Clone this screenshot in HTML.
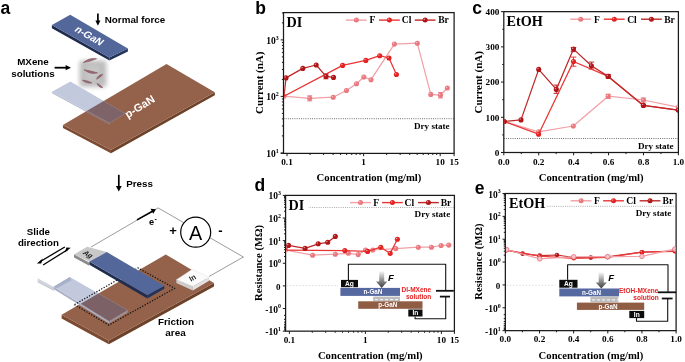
<!DOCTYPE html>
<html><head><meta charset="utf-8"><style>
html,body{margin:0;padding:0;background:#fff;}
svg{display:block;will-change:transform;filter:blur(0.3px);}
</style></head><body>
<svg width="685" height="362" viewBox="0 0 685 362">
<rect width="685" height="362" fill="#fff"/>
<text x="0.6" y="13.8" font-family='"Liberation Sans", sans-serif' font-size="17.5" font-weight="bold" text-anchor="start" fill="#000" >a</text>
<polygon points="51.9,25.0 109.3,57.4 109.4,60.6 51.9,28.2" fill="#1f2c4e" />
<polygon points="109.3,57.4 127.9,48.5 127.9,51.6 109.4,60.6" fill="#24335a" />
<polygon points="51.9,25.0 70.2,14.7 127.9,48.5 109.3,57.4" fill="#53679a" />
<text transform="translate(89.4,35.9) rotate(30) skewX(-14)" font-family='"Liberation Sans", sans-serif' font-size="10.1" font-weight="bold" fill="#fff" text-anchor="middle" dy="3.4">n-GaN</text>
<line x1="97.90" y1="13.60" x2="97.90" y2="21.50" stroke="#000" stroke-width="1.7" />
<polygon points="95.4,20.4 100.4,20.4 97.9,25.8" fill="#000" />
<text x="104.8" y="23.2" font-family='"Liberation Sans", sans-serif' font-size="9.8" font-weight="bold" text-anchor="start" fill="#000" >Normal force</text>
<text x="33" y="65.4" font-family='"Liberation Sans", sans-serif' font-size="9.8" font-weight="bold" text-anchor="middle" fill="#000" >MXene</text>
<text x="33" y="76.6" font-family='"Liberation Sans", sans-serif' font-size="9.8" font-weight="bold" text-anchor="middle" fill="#000" >solutions</text>
<line x1="54.60" y1="67.70" x2="66.50" y2="67.70" stroke="#000" stroke-width="1.8" />
<polygon points="65.6,65.1 71.0,67.7 65.6,70.3" fill="#000" />
<defs><radialGradient id="cg" cx="50%" cy="50%" r="50%"><stop offset="0" stop-color="#9a9a9a" stop-opacity="0.75"/><stop offset="0.6" stop-color="#b8b8b8" stop-opacity="0.55"/><stop offset="1" stop-color="#ffffff" stop-opacity="0"/></radialGradient><filter id="bl" x="-30%" y="-30%" width="160%" height="160%"><feGaussianBlur stdDeviation="2.2"/></filter><filter id="bl1" x="-30%" y="-30%" width="160%" height="160%"><feGaussianBlur stdDeviation="0.5"/></filter></defs>
<rect x="79.5" y="60.5" width="27" height="26.5" rx="3" fill="#b2b2b2" opacity="0.85" filter="url(#bl)"/>
<rect x="86" y="66" width="13" height="14" fill="#d0d0d0" opacity="0.5" filter="url(#bl)"/>
<g fill="#966570" stroke="#7a4a52" stroke-width="0.6" filter="url(#bl1)" opacity="0.92"><path d="M83.4,62.6 Q90.3,61.6 96.6,58.7 Q89.0,57.4 83.4,62.6 Z"/><path d="M84.0,69.7 Q90.0,74.7 97.6,72.9 Q90.9,70.8 84.0,69.7 Z"/><path d="M96.6,79.2 Q100.3,77.6 102.9,74.5 Q98.0,74.5 96.6,79.2 Z"/><path d="M82.4,80.2 Q86.4,84.0 91.8,82.9 Q87.5,80.3 82.4,80.2 Z"/><path d="M97.1,83.4 Q98.5,87.6 102.9,87.6 Q100.6,84.7 97.1,83.4 Z"/></g>
<polygon points="62.9,124.9 110.9,150.0 111.0,153.3 63.0,128.0" fill="#7b4a30" />
<polygon points="110.9,150.0 214.8,92.3 214.8,95.3 111.0,153.3" fill="#6e4129" />
<polygon points="62.9,124.9 166.5,64.1 214.8,92.3 110.9,150.0" fill="#94624a" />
<polygon points="51.9,91.7 109.9,123.0 109.9,124.6 51.9,93.3" fill="#b0b6cc" opacity="0.9"/>
<polygon points="51.9,91.7 70.4,81.5 125.1,113.6 109.9,123.0" fill="#c3c9dd" />
<clipPath id="cpP1"><polygon points="62.9,124.9 166.5,64.1 214.8,92.3 110.9,150"/></clipPath>
<g clip-path="url(#cpP1)">
<polygon points="51.9,91.7 109.9,123.0 109.9,124.8 51.9,93.5" fill="#8e7478" />
<polygon points="51.9,91.7 70.4,81.5 125.1,113.6 109.9,123.0" fill="#7e6468" />
</g>
<text transform="translate(139.6,106.4) rotate(-32)" font-family='"Liberation Sans", sans-serif' font-size="11" font-weight="bold" fill="#fff" text-anchor="middle" dy="3.9">p-GaN</text>
<line x1="118.80" y1="174.80" x2="118.80" y2="187.00" stroke="#000" stroke-width="1.7" />
<polygon points="115.9,186.0 121.7,186.0 118.8,191.5" fill="#000" />
<text x="126.2" y="186.7" font-family='"Liberation Sans", sans-serif' font-size="9.8" font-weight="bold" text-anchor="start" fill="#000" >Press</text>
<polyline points="91.0,247.0 158.1,207.9 243.4,257.0 209.0,276.5" fill="none" stroke="#9c9c9c" stroke-width="1.0" stroke-linejoin="round" />
<circle cx="195.7" cy="232.2" r="15" fill="#fff" stroke="#000" stroke-width="1.2"/>
<text x="195.6" y="239.7" font-family='"Liberation Sans", sans-serif' font-size="19.8" font-weight="normal" text-anchor="middle" fill="#000" >A</text>
<text x="173" y="235" font-family='"Liberation Sans", sans-serif' font-size="13" font-weight="bold" text-anchor="middle" fill="#000" >+</text>
<text x="220.5" y="235" font-family='"Liberation Sans", sans-serif' font-size="13" font-weight="bold" text-anchor="middle" fill="#000" >-</text>
<line x1="137.00" y1="219.90" x2="152.50" y2="211.20" stroke="#000" stroke-width="1.6" />
<polygon points="150.5,208.7 156.0,209.2 153.2,213.8" fill="#000" />
<text x="151.5" y="225.3" font-family='"Liberation Sans", sans-serif' font-size="9.2" font-weight="bold" text-anchor="middle" fill="#000" >e</text>
<text x="154.6" y="221.2" font-family='"Liberation Sans", sans-serif' font-size="7" font-weight="bold" text-anchor="start" fill="#000" >-</text>
<text x="38.4" y="234.8" font-family='"Liberation Sans", sans-serif' font-size="9.7" font-weight="bold" text-anchor="middle" fill="#000" >Slide</text>
<text x="38.4" y="246" font-family='"Liberation Sans", sans-serif' font-size="9.7" font-weight="bold" text-anchor="middle" fill="#000" >direction</text>
<line x1="64.80" y1="247.00" x2="40.00" y2="261.70" stroke="#000" stroke-width="1.3" />
<polygon points="36.8,263.6 42.8,258.6 41.2,263.6" fill="#000" />
<line x1="43.10" y1="265.00" x2="67.50" y2="249.70" stroke="#000" stroke-width="1.3" />
<polygon points="70.8,247.8 64.8,252.6 66.4,247.6" fill="#000" />
<polygon points="61.6,314.8 108.8,340.5 108.8,344.3 61.6,318.4" fill="#7b4a30" />
<polygon points="108.8,340.5 214.0,282.9 214.0,286.6 108.8,344.3" fill="#6e4129" />
<polygon points="61.6,314.8 165.8,254.4 214.0,282.9 108.8,340.5" fill="#94624a" />
<polygon points="37.7,278.3 54.0,286.9 54.0,290.8 37.7,282.3" fill="#d3d6de" />
<polygon points="37.7,281.2 54.0,289.7 54.0,290.8 37.7,282.3" fill="#c2c6d0" />
<polygon points="53.6,286.8 109.2,321.2 109.2,323.4 53.6,289.0" fill="#a9aec4" />
<polygon points="53.6,286.8 69.8,276.9 127.7,310.3 109.2,321.2" fill="#c3c9dd" />
<polygon points="53.6,286.8 69.8,276.9 71.5,280.2 56.5,288.6" fill="#a9b1c9" />
<clipPath id="cpP2"><polygon points="61.6,314.8 165.8,254.4 214,282.9 108.8,340.5"/></clipPath>
<g clip-path="url(#cpP2)">
<polygon points="53.6,286.8 69.8,276.9 127.7,310.3 109.2,321.2" fill="#7c6267" />
</g>
<polygon points="109.2,321.2 127.7,310.3 127.7,312.5 109.2,323.4" fill="#a09095" />
<polyline points="74.5,304.6 138.0,268.0 174.7,288.3 108.8,325.1 74.5,304.6" fill="none" stroke="#111" stroke-width="1.25" stroke-linejoin="round" stroke-dasharray="1.3 1.5"/>
<polygon points="74.0,254.2 89.2,262.4 89.2,265.8 74.0,257.4" fill="#8c8c8c" />
<polygon points="74.0,254.4 87.1,246.7 106.8,252.1 89.4,261.6" fill="#c8c8c8" />
<text transform="translate(88.2,254.3) rotate(32) skewX(-20)" font-family='"Liberation Sans", sans-serif' font-size="7" font-weight="bold" fill="#1a1a1a" text-anchor="middle" dy="2.4">Ag</text>
<polygon points="89.4,261.6 147.2,295.1 147.4,298.4 89.4,264.8" fill="#1f2c4e" />
<polygon points="147.2,295.1 164.3,285.8 164.3,288.8 147.4,298.4" fill="#24335a" />
<polygon points="89.4,261.6 106.8,252.1 164.3,285.8 147.2,295.1" fill="#53679a" />
<polygon points="176.4,279.7 192.8,286.5 192.8,290.5 176.4,282.9" fill="#cdcdcd" />
<polygon points="192.8,286.5 209.1,277.3 209.1,280.8 192.8,290.5" fill="#e2e2e2" />
<polygon points="176.4,279.7 192.3,269.3 209.1,277.3 192.8,286.5" fill="#fbfbfb" stroke="#d8d8d8" stroke-width="0.4"/>
<text transform="translate(192.6,278) rotate(-31)" font-family='"Liberation Sans", sans-serif' font-size="7.5" font-weight="bold" fill="#222" text-anchor="middle" dy="2.5">In</text>
<text x="176" y="325.1" font-family='"Liberation Sans", sans-serif' font-size="9.9" font-weight="bold" text-anchor="middle" fill="#000" >Friction</text>
<text x="175.5" y="335.5" font-family='"Liberation Sans", sans-serif' font-size="9.9" font-weight="bold" text-anchor="middle" fill="#000" >area</text>
<text x="255.3" y="14.2" font-family='"Liberation Sans", sans-serif' font-size="17.5" font-weight="bold" text-anchor="start" fill="#000" >b</text>
<line x1="283.50" y1="118.70" x2="454.10" y2="118.70" stroke="#505050" stroke-width="0.9" stroke-dasharray="0.9 1.3"/>
<text x="449.6" y="129" font-family='"Liberation Serif", serif' font-size="9.1" font-weight="bold" text-anchor="end" fill="#000" >Dry state</text>
<line x1="287.00" y1="153.40" x2="287.00" y2="156.20" stroke="#1a1a1a" stroke-width="1" />
<line x1="310.06" y1="153.40" x2="310.06" y2="155.00" stroke="#1a1a1a" stroke-width="1" />
<line x1="323.55" y1="153.40" x2="323.55" y2="155.00" stroke="#1a1a1a" stroke-width="1" />
<line x1="333.12" y1="153.40" x2="333.12" y2="155.00" stroke="#1a1a1a" stroke-width="1" />
<line x1="340.54" y1="153.40" x2="340.54" y2="155.00" stroke="#1a1a1a" stroke-width="1" />
<line x1="346.61" y1="153.40" x2="346.61" y2="155.00" stroke="#1a1a1a" stroke-width="1" />
<line x1="351.73" y1="153.40" x2="351.73" y2="155.00" stroke="#1a1a1a" stroke-width="1" />
<line x1="356.18" y1="153.40" x2="356.18" y2="155.00" stroke="#1a1a1a" stroke-width="1" />
<line x1="360.09" y1="153.40" x2="360.09" y2="155.00" stroke="#1a1a1a" stroke-width="1" />
<line x1="363.60" y1="153.40" x2="363.60" y2="156.20" stroke="#1a1a1a" stroke-width="1" />
<line x1="386.66" y1="153.40" x2="386.66" y2="155.00" stroke="#1a1a1a" stroke-width="1" />
<line x1="400.15" y1="153.40" x2="400.15" y2="155.00" stroke="#1a1a1a" stroke-width="1" />
<line x1="409.72" y1="153.40" x2="409.72" y2="155.00" stroke="#1a1a1a" stroke-width="1" />
<line x1="417.14" y1="153.40" x2="417.14" y2="155.00" stroke="#1a1a1a" stroke-width="1" />
<line x1="423.21" y1="153.40" x2="423.21" y2="155.00" stroke="#1a1a1a" stroke-width="1" />
<line x1="428.33" y1="153.40" x2="428.33" y2="155.00" stroke="#1a1a1a" stroke-width="1" />
<line x1="432.78" y1="153.40" x2="432.78" y2="155.00" stroke="#1a1a1a" stroke-width="1" />
<line x1="436.69" y1="153.40" x2="436.69" y2="155.00" stroke="#1a1a1a" stroke-width="1" />
<line x1="440.20" y1="153.40" x2="440.20" y2="156.20" stroke="#1a1a1a" stroke-width="1" />
<line x1="454.10" y1="153.40" x2="454.10" y2="156.20" stroke="#1a1a1a" stroke-width="1" />
<line x1="283.50" y1="153.40" x2="280.70" y2="153.40" stroke="#1a1a1a" stroke-width="1" />
<line x1="283.50" y1="152.90" x2="280.70" y2="152.90" stroke="#1a1a1a" stroke-width="1" />
<line x1="283.50" y1="135.89" x2="281.90" y2="135.89" stroke="#1a1a1a" stroke-width="1" />
<line x1="283.50" y1="125.94" x2="281.90" y2="125.94" stroke="#1a1a1a" stroke-width="1" />
<line x1="283.50" y1="118.88" x2="281.90" y2="118.88" stroke="#1a1a1a" stroke-width="1" />
<line x1="283.50" y1="113.41" x2="281.90" y2="113.41" stroke="#1a1a1a" stroke-width="1" />
<line x1="283.50" y1="108.93" x2="281.90" y2="108.93" stroke="#1a1a1a" stroke-width="1" />
<line x1="283.50" y1="105.15" x2="281.90" y2="105.15" stroke="#1a1a1a" stroke-width="1" />
<line x1="283.50" y1="101.88" x2="281.90" y2="101.88" stroke="#1a1a1a" stroke-width="1" />
<line x1="283.50" y1="98.99" x2="281.90" y2="98.99" stroke="#1a1a1a" stroke-width="1" />
<line x1="283.50" y1="96.40" x2="280.70" y2="96.40" stroke="#1a1a1a" stroke-width="1" />
<line x1="283.50" y1="79.39" x2="281.90" y2="79.39" stroke="#1a1a1a" stroke-width="1" />
<line x1="283.50" y1="69.44" x2="281.90" y2="69.44" stroke="#1a1a1a" stroke-width="1" />
<line x1="283.50" y1="62.38" x2="281.90" y2="62.38" stroke="#1a1a1a" stroke-width="1" />
<line x1="283.50" y1="56.91" x2="281.90" y2="56.91" stroke="#1a1a1a" stroke-width="1" />
<line x1="283.50" y1="52.43" x2="281.90" y2="52.43" stroke="#1a1a1a" stroke-width="1" />
<line x1="283.50" y1="48.65" x2="281.90" y2="48.65" stroke="#1a1a1a" stroke-width="1" />
<line x1="283.50" y1="45.38" x2="281.90" y2="45.38" stroke="#1a1a1a" stroke-width="1" />
<line x1="283.50" y1="42.49" x2="281.90" y2="42.49" stroke="#1a1a1a" stroke-width="1" />
<line x1="283.50" y1="39.90" x2="280.70" y2="39.90" stroke="#1a1a1a" stroke-width="1" />
<line x1="283.50" y1="22.89" x2="281.90" y2="22.89" stroke="#1a1a1a" stroke-width="1" />
<line x1="283.50" y1="12.94" x2="281.90" y2="12.94" stroke="#1a1a1a" stroke-width="1" />
<rect x="283.5" y="12.6" width="170.60" height="140.80" fill="none" stroke="#1a1a1a" stroke-width="1.25"/>
<text x="287.0" y="165" font-family='"Liberation Serif", serif' font-size="9.2" font-weight="bold" text-anchor="middle" fill="#000" >0.1</text>
<text x="363.6" y="165" font-family='"Liberation Serif", serif' font-size="9.2" font-weight="bold" text-anchor="middle" fill="#000" >1</text>
<text x="440.20000000000005" y="165" font-family='"Liberation Serif", serif' font-size="9.2" font-weight="bold" text-anchor="middle" fill="#000" >10</text>
<text x="454.2" y="165" font-family='"Liberation Serif", serif' font-size="9.2" font-weight="bold" text-anchor="middle" fill="#000" >15</text>
<text x="278.6" y="43.9" font-family='"Liberation Serif", serif' font-size="9.5" font-weight="bold" text-anchor="end">10<tspan font-size="5.9" dy="-4.1">3</tspan></text>
<text x="278.6" y="100.4" font-family='"Liberation Serif", serif' font-size="9.5" font-weight="bold" text-anchor="end">10<tspan font-size="5.9" dy="-4.1">2</tspan></text>
<text x="278.6" y="156.9" font-family='"Liberation Serif", serif' font-size="9.5" font-weight="bold" text-anchor="end">10<tspan font-size="5.9" dy="-4.1">1</tspan></text>
<text x="369" y="181.2" font-family='"Liberation Serif", serif' font-size="10.7" font-weight="bold" text-anchor="middle" fill="#000" >Concentration (mg/ml)</text>
<text transform="translate(263.1,82.75) rotate(-90)" font-family='"Liberation Serif", serif' font-size="11.0" font-weight="bold" text-anchor="middle">Current (nA)</text>
<text x="286.4" y="27.2" font-family='"Liberation Serif", serif' font-size="14.2" font-weight="bold" text-anchor="start" fill="#000" >DI</text>
<line x1="345.90" y1="20.10" x2="366.70" y2="20.10" stroke="#f0a0a6" stroke-width="1.4" />
<circle cx="356.3" cy="20.1" r="2.5" fill="#e9787f"/>
<circle cx="355.5" cy="19.3" r="0.75" fill="#fff" opacity="0.55"/>
<text x="369.4" y="23.4" font-family='"Liberation Serif", serif' font-size="9.6" font-weight="bold">F</text>
<line x1="379.00" y1="20.10" x2="399.80" y2="20.10" stroke="#ea3434" stroke-width="1.4" />
<circle cx="389.4" cy="20.1" r="2.5" fill="#e42222"/>
<circle cx="388.6" cy="19.3" r="0.75" fill="#fff" opacity="0.55"/>
<text x="401.8" y="23.4" font-family='"Liberation Serif", serif' font-size="9.6" font-weight="bold">Cl</text>
<line x1="414.70" y1="20.10" x2="435.50" y2="20.10" stroke="#c02626" stroke-width="1.4" />
<circle cx="425.1" cy="20.1" r="2.5" fill="#b01518"/>
<circle cx="424.3" cy="19.3" r="0.75" fill="#fff" opacity="0.55"/>
<text x="438.2" y="23.4" font-family='"Liberation Serif", serif' font-size="9.6" font-weight="bold">Br</text>
<clipPath id="cpb"><rect x="284.1" y="13.2" width="169.40" height="139.60"/></clipPath><g clip-path="url(#cpb)">
<line x1="309.70" y1="95.80" x2="309.70" y2="100.90" stroke="#e9787f" stroke-width="0.9" />
<line x1="307.20" y1="95.80" x2="312.20" y2="95.80" stroke="#e9787f" stroke-width="0.9" />
<line x1="307.20" y1="100.90" x2="312.20" y2="100.90" stroke="#e9787f" stroke-width="0.9" />
<line x1="326.00" y1="74.00" x2="326.00" y2="78.80" stroke="#b01518" stroke-width="0.9" />
<line x1="323.50" y1="74.00" x2="328.50" y2="74.00" stroke="#b01518" stroke-width="0.9" />
<line x1="323.50" y1="78.80" x2="328.50" y2="78.80" stroke="#b01518" stroke-width="0.9" />
<line x1="440.50" y1="92.50" x2="440.50" y2="98.00" stroke="#e9787f" stroke-width="0.9" />
<line x1="438.00" y1="92.50" x2="443.00" y2="92.50" stroke="#e9787f" stroke-width="0.9" />
<line x1="438.00" y1="98.00" x2="443.00" y2="98.00" stroke="#e9787f" stroke-width="0.9" />
<polyline points="284.0,96.2 309.7,98.3 333.2,97.2 346.4,90.5 356.5,83.8 363.8,77.0 371.0,79.7 394.4,44.1 417.3,43.2 430.8,94.4 440.5,95.2 447.3,88.0" fill="none" stroke="#f0a0a6" stroke-width="1.25" stroke-linejoin="round" />
<circle cx="284.0" cy="96.2" r="2.55" fill="#e9787f"/>
<circle cx="283.2" cy="95.4" r="0.75" fill="#fff" opacity="0.55"/>
<circle cx="309.7" cy="98.3" r="2.55" fill="#e9787f"/>
<circle cx="308.9" cy="97.5" r="0.75" fill="#fff" opacity="0.55"/>
<circle cx="333.2" cy="97.2" r="2.55" fill="#e9787f"/>
<circle cx="332.4" cy="96.4" r="0.75" fill="#fff" opacity="0.55"/>
<circle cx="346.4" cy="90.5" r="2.55" fill="#e9787f"/>
<circle cx="345.6" cy="89.7" r="0.75" fill="#fff" opacity="0.55"/>
<circle cx="356.5" cy="83.8" r="2.55" fill="#e9787f"/>
<circle cx="355.7" cy="83.0" r="0.75" fill="#fff" opacity="0.55"/>
<circle cx="363.8" cy="77.0" r="2.55" fill="#e9787f"/>
<circle cx="363.0" cy="76.2" r="0.75" fill="#fff" opacity="0.55"/>
<circle cx="371.0" cy="79.7" r="2.55" fill="#e9787f"/>
<circle cx="370.2" cy="78.9" r="0.75" fill="#fff" opacity="0.55"/>
<circle cx="394.4" cy="44.1" r="2.55" fill="#e9787f"/>
<circle cx="393.6" cy="43.3" r="0.75" fill="#fff" opacity="0.55"/>
<circle cx="417.3" cy="43.2" r="2.55" fill="#e9787f"/>
<circle cx="416.5" cy="42.4" r="0.75" fill="#fff" opacity="0.55"/>
<circle cx="430.8" cy="94.4" r="2.55" fill="#e9787f"/>
<circle cx="430.0" cy="93.6" r="0.75" fill="#fff" opacity="0.55"/>
<circle cx="440.5" cy="95.2" r="2.55" fill="#e9787f"/>
<circle cx="439.7" cy="94.4" r="0.75" fill="#fff" opacity="0.55"/>
<circle cx="447.3" cy="88.0" r="2.55" fill="#e9787f"/>
<circle cx="446.5" cy="87.2" r="0.75" fill="#fff" opacity="0.55"/>
<polyline points="284.0,96.2 342.6,65.4 365.8,60.4 379.7,55.7 389.0,58.0 396.4,74.5" fill="none" stroke="#ea3434" stroke-width="1.25" stroke-linejoin="round" />
<circle cx="342.6" cy="65.4" r="2.55" fill="#e42222"/>
<circle cx="341.8" cy="64.6" r="0.75" fill="#fff" opacity="0.55"/>
<circle cx="365.8" cy="60.4" r="2.55" fill="#e42222"/>
<circle cx="365.0" cy="59.6" r="0.75" fill="#fff" opacity="0.55"/>
<circle cx="379.7" cy="55.7" r="2.55" fill="#e42222"/>
<circle cx="378.9" cy="54.9" r="0.75" fill="#fff" opacity="0.55"/>
<circle cx="389.0" cy="58.0" r="2.55" fill="#e42222"/>
<circle cx="388.2" cy="57.2" r="0.75" fill="#fff" opacity="0.55"/>
<circle cx="396.4" cy="74.5" r="2.55" fill="#e42222"/>
<circle cx="395.6" cy="73.7" r="0.75" fill="#fff" opacity="0.55"/>
<polyline points="284.0,96.2 286.0,77.9 302.8,68.4 316.2,65.0 326.0,76.4 333.5,77.4" fill="none" stroke="#c02626" stroke-width="1.25" stroke-linejoin="round" />
<circle cx="286.0" cy="77.9" r="2.55" fill="#b01518"/>
<circle cx="285.2" cy="77.1" r="0.75" fill="#fff" opacity="0.55"/>
<circle cx="302.8" cy="68.4" r="2.55" fill="#b01518"/>
<circle cx="302.0" cy="67.6" r="0.75" fill="#fff" opacity="0.55"/>
<circle cx="316.2" cy="65.0" r="2.55" fill="#b01518"/>
<circle cx="315.4" cy="64.2" r="0.75" fill="#fff" opacity="0.55"/>
<circle cx="326.0" cy="76.4" r="2.55" fill="#b01518"/>
<circle cx="325.2" cy="75.6" r="0.75" fill="#fff" opacity="0.55"/>
<circle cx="333.5" cy="77.4" r="2.55" fill="#b01518"/>
<circle cx="332.7" cy="76.6" r="0.75" fill="#fff" opacity="0.55"/>
</g>
<text x="472.2" y="14.2" font-family='"Liberation Sans", sans-serif' font-size="17.5" font-weight="bold" text-anchor="start" fill="#000" >c</text>
<line x1="503.80" y1="138.50" x2="678.40" y2="138.50" stroke="#505050" stroke-width="0.9" stroke-dasharray="0.9 1.3"/>
<text x="673.6" y="149.2" font-family='"Liberation Serif", serif' font-size="9.1" font-weight="bold" text-anchor="end" fill="#000" >Dry state</text>
<line x1="503.80" y1="152.50" x2="503.80" y2="155.30" stroke="#1a1a1a" stroke-width="1" />
<line x1="521.26" y1="152.50" x2="521.26" y2="154.10" stroke="#1a1a1a" stroke-width="1" />
<line x1="538.72" y1="152.50" x2="538.72" y2="155.30" stroke="#1a1a1a" stroke-width="1" />
<line x1="556.18" y1="152.50" x2="556.18" y2="154.10" stroke="#1a1a1a" stroke-width="1" />
<line x1="573.64" y1="152.50" x2="573.64" y2="155.30" stroke="#1a1a1a" stroke-width="1" />
<line x1="591.10" y1="152.50" x2="591.10" y2="154.10" stroke="#1a1a1a" stroke-width="1" />
<line x1="608.56" y1="152.50" x2="608.56" y2="155.30" stroke="#1a1a1a" stroke-width="1" />
<line x1="626.02" y1="152.50" x2="626.02" y2="154.10" stroke="#1a1a1a" stroke-width="1" />
<line x1="643.48" y1="152.50" x2="643.48" y2="155.30" stroke="#1a1a1a" stroke-width="1" />
<line x1="660.94" y1="152.50" x2="660.94" y2="154.10" stroke="#1a1a1a" stroke-width="1" />
<line x1="678.40" y1="152.50" x2="678.40" y2="155.30" stroke="#1a1a1a" stroke-width="1" />
<line x1="503.80" y1="152.50" x2="501.00" y2="152.50" stroke="#1a1a1a" stroke-width="1" />
<line x1="503.80" y1="134.90" x2="502.20" y2="134.90" stroke="#1a1a1a" stroke-width="1" />
<line x1="503.80" y1="117.29" x2="501.00" y2="117.29" stroke="#1a1a1a" stroke-width="1" />
<line x1="503.80" y1="99.69" x2="502.20" y2="99.69" stroke="#1a1a1a" stroke-width="1" />
<line x1="503.80" y1="82.08" x2="501.00" y2="82.08" stroke="#1a1a1a" stroke-width="1" />
<line x1="503.80" y1="64.47" x2="502.20" y2="64.47" stroke="#1a1a1a" stroke-width="1" />
<line x1="503.80" y1="46.87" x2="501.00" y2="46.87" stroke="#1a1a1a" stroke-width="1" />
<line x1="503.80" y1="29.26" x2="502.20" y2="29.26" stroke="#1a1a1a" stroke-width="1" />
<line x1="503.80" y1="11.66" x2="501.00" y2="11.66" stroke="#1a1a1a" stroke-width="1" />
<rect x="503.8" y="11.65" width="174.60" height="140.85" fill="none" stroke="#1a1a1a" stroke-width="1.25"/>
<text x="503.8" y="165" font-family='"Liberation Serif", serif' font-size="9.2" font-weight="bold" text-anchor="middle" fill="#000" >0.0</text>
<text x="538.72" y="165" font-family='"Liberation Serif", serif' font-size="9.2" font-weight="bold" text-anchor="middle" fill="#000" >0.2</text>
<text x="573.64" y="165" font-family='"Liberation Serif", serif' font-size="9.2" font-weight="bold" text-anchor="middle" fill="#000" >0.4</text>
<text x="608.56" y="165" font-family='"Liberation Serif", serif' font-size="9.2" font-weight="bold" text-anchor="middle" fill="#000" >0.6</text>
<text x="643.48" y="165" font-family='"Liberation Serif", serif' font-size="9.2" font-weight="bold" text-anchor="middle" fill="#000" >0.8</text>
<text x="678.4" y="165" font-family='"Liberation Serif", serif' font-size="9.2" font-weight="bold" text-anchor="middle" fill="#000" >1.0</text>
<text x="499.4" y="155.8" font-family='"Liberation Serif", serif' font-size="9.2" font-weight="bold" text-anchor="end" fill="#000" >0</text>
<text x="499.4" y="120.58999999999999" font-family='"Liberation Serif", serif' font-size="9.2" font-weight="bold" text-anchor="end" fill="#000" >100</text>
<text x="499.4" y="85.38" font-family='"Liberation Serif", serif' font-size="9.2" font-weight="bold" text-anchor="end" fill="#000" >200</text>
<text x="499.4" y="50.16999999999999" font-family='"Liberation Serif", serif' font-size="9.2" font-weight="bold" text-anchor="end" fill="#000" >300</text>
<text x="499.4" y="14.959999999999997" font-family='"Liberation Serif", serif' font-size="9.2" font-weight="bold" text-anchor="end" fill="#000" >400</text>
<text x="591.2" y="181.2" font-family='"Liberation Serif", serif' font-size="10.7" font-weight="bold" text-anchor="middle" fill="#000" >Concentration (mg/ml)</text>
<text transform="translate(482.0,82.3) rotate(-90)" font-family='"Liberation Serif", serif' font-size="11.0" font-weight="bold" text-anchor="middle">Current (nA)</text>
<text x="506.6" y="26.4" font-family='"Liberation Serif", serif' font-size="14.2" font-weight="bold" text-anchor="start" fill="#000" >EtOH</text>
<line x1="570.30" y1="19.20" x2="591.10" y2="19.20" stroke="#f0a0a6" stroke-width="1.4" />
<circle cx="580.7" cy="19.2" r="2.5" fill="#e9787f"/>
<circle cx="579.9" cy="18.4" r="0.75" fill="#fff" opacity="0.55"/>
<text x="594.1" y="22.5" font-family='"Liberation Serif", serif' font-size="9.6" font-weight="bold">F</text>
<line x1="603.90" y1="19.20" x2="624.70" y2="19.20" stroke="#ea3434" stroke-width="1.4" />
<circle cx="614.3" cy="19.2" r="2.5" fill="#e42222"/>
<circle cx="613.5" cy="18.4" r="0.75" fill="#fff" opacity="0.55"/>
<text x="627.2" y="22.5" font-family='"Liberation Serif", serif' font-size="9.6" font-weight="bold">Cl</text>
<line x1="641.00" y1="19.20" x2="661.80" y2="19.20" stroke="#c02626" stroke-width="1.4" />
<circle cx="651.4" cy="19.2" r="2.5" fill="#b01518"/>
<circle cx="650.6" cy="18.4" r="0.75" fill="#fff" opacity="0.55"/>
<text x="664.2" y="22.5" font-family='"Liberation Serif", serif' font-size="9.6" font-weight="bold">Br</text>
<clipPath id="cpc"><rect x="504.40000000000003" y="12.25" width="173.40" height="139.65"/></clipPath><g clip-path="url(#cpc)">
<line x1="556.30" y1="85.10" x2="556.30" y2="93.40" stroke="#b01518" stroke-width="0.9" />
<line x1="553.55" y1="85.10" x2="559.05" y2="85.10" stroke="#b01518" stroke-width="0.9" />
<line x1="553.55" y1="93.40" x2="559.05" y2="93.40" stroke="#b01518" stroke-width="0.9" />
<line x1="573.50" y1="47.50" x2="573.50" y2="51.60" stroke="#b01518" stroke-width="0.9" />
<line x1="570.75" y1="47.50" x2="576.25" y2="47.50" stroke="#b01518" stroke-width="0.9" />
<line x1="570.75" y1="51.60" x2="576.25" y2="51.60" stroke="#b01518" stroke-width="0.9" />
<line x1="591.40" y1="62.10" x2="591.40" y2="69.00" stroke="#b01518" stroke-width="0.9" />
<line x1="588.65" y1="62.10" x2="594.15" y2="62.10" stroke="#b01518" stroke-width="0.9" />
<line x1="588.65" y1="69.00" x2="594.15" y2="69.00" stroke="#b01518" stroke-width="0.9" />
<line x1="573.50" y1="57.10" x2="573.50" y2="66.20" stroke="#e42222" stroke-width="0.9" />
<line x1="570.75" y1="57.10" x2="576.25" y2="57.10" stroke="#e42222" stroke-width="0.9" />
<line x1="570.75" y1="66.20" x2="576.25" y2="66.20" stroke="#e42222" stroke-width="0.9" />
<line x1="608.30" y1="74.50" x2="608.30" y2="78.10" stroke="#e42222" stroke-width="0.9" />
<line x1="605.55" y1="74.50" x2="611.05" y2="74.50" stroke="#e42222" stroke-width="0.9" />
<line x1="605.55" y1="78.10" x2="611.05" y2="78.10" stroke="#e42222" stroke-width="0.9" />
<line x1="608.30" y1="94.20" x2="608.30" y2="98.40" stroke="#e9787f" stroke-width="0.9" />
<line x1="605.55" y1="94.20" x2="611.05" y2="94.20" stroke="#e9787f" stroke-width="0.9" />
<line x1="605.55" y1="98.40" x2="611.05" y2="98.40" stroke="#e9787f" stroke-width="0.9" />
<line x1="643.40" y1="98.00" x2="643.40" y2="102.00" stroke="#e9787f" stroke-width="0.9" />
<line x1="640.65" y1="98.00" x2="646.15" y2="98.00" stroke="#e9787f" stroke-width="0.9" />
<line x1="640.65" y1="102.00" x2="646.15" y2="102.00" stroke="#e9787f" stroke-width="0.9" />
<polyline points="504.1,121.5 538.6,131.8 573.3,126.0 608.2,96.2 643.4,100.0 678.4,107.3" fill="none" stroke="#f0a0a6" stroke-width="1.25" stroke-linejoin="round" />
<circle cx="504.1" cy="121.5" r="2.55" fill="#e9787f"/>
<circle cx="503.3" cy="120.7" r="0.75" fill="#fff" opacity="0.55"/>
<circle cx="538.6" cy="131.8" r="2.55" fill="#e9787f"/>
<circle cx="537.8" cy="131.0" r="0.75" fill="#fff" opacity="0.55"/>
<circle cx="573.3" cy="126.0" r="2.55" fill="#e9787f"/>
<circle cx="572.5" cy="125.2" r="0.75" fill="#fff" opacity="0.55"/>
<circle cx="608.2" cy="96.2" r="2.55" fill="#e9787f"/>
<circle cx="607.4" cy="95.4" r="0.75" fill="#fff" opacity="0.55"/>
<circle cx="643.4" cy="100.0" r="2.55" fill="#e9787f"/>
<circle cx="642.6" cy="99.2" r="0.75" fill="#fff" opacity="0.55"/>
<circle cx="678.4" cy="107.3" r="2.55" fill="#e9787f"/>
<circle cx="677.6" cy="106.5" r="0.75" fill="#fff" opacity="0.55"/>
<polyline points="504.1,121.5 538.6,134.2 573.5,61.5 608.2,76.4 643.4,105.4 678.4,110.2" fill="none" stroke="#ea3434" stroke-width="1.25" stroke-linejoin="round" />
<circle cx="504.1" cy="121.5" r="2.55" fill="#e42222"/>
<circle cx="503.3" cy="120.7" r="0.75" fill="#fff" opacity="0.55"/>
<circle cx="538.6" cy="134.2" r="2.55" fill="#e42222"/>
<circle cx="537.8" cy="133.4" r="0.75" fill="#fff" opacity="0.55"/>
<circle cx="573.5" cy="61.5" r="2.55" fill="#e42222"/>
<circle cx="572.7" cy="60.7" r="0.75" fill="#fff" opacity="0.55"/>
<circle cx="608.2" cy="76.4" r="2.55" fill="#e42222"/>
<circle cx="607.4" cy="75.6" r="0.75" fill="#fff" opacity="0.55"/>
<circle cx="643.4" cy="105.4" r="2.55" fill="#e42222"/>
<circle cx="642.6" cy="104.6" r="0.75" fill="#fff" opacity="0.55"/>
<circle cx="678.4" cy="110.2" r="2.55" fill="#e42222"/>
<circle cx="677.6" cy="109.4" r="0.75" fill="#fff" opacity="0.55"/>
<polyline points="504.1,121.5 521.0,119.9 538.7,69.4 556.3,89.4 573.5,49.1 591.4,65.7 608.2,76.4 643.4,105.4 678.4,110.2" fill="none" stroke="#c02626" stroke-width="1.25" stroke-linejoin="round" />
<circle cx="504.1" cy="121.5" r="2.55" fill="#b01518"/>
<circle cx="503.3" cy="120.7" r="0.75" fill="#fff" opacity="0.55"/>
<circle cx="521.0" cy="119.9" r="2.55" fill="#b01518"/>
<circle cx="520.2" cy="119.1" r="0.75" fill="#fff" opacity="0.55"/>
<circle cx="538.7" cy="69.4" r="2.55" fill="#b01518"/>
<circle cx="537.9" cy="68.6" r="0.75" fill="#fff" opacity="0.55"/>
<circle cx="556.3" cy="89.4" r="2.55" fill="#b01518"/>
<circle cx="555.5" cy="88.6" r="0.75" fill="#fff" opacity="0.55"/>
<circle cx="573.5" cy="49.1" r="2.55" fill="#b01518"/>
<circle cx="572.7" cy="48.3" r="0.75" fill="#fff" opacity="0.55"/>
<circle cx="591.4" cy="65.7" r="2.55" fill="#b01518"/>
<circle cx="590.6" cy="64.9" r="0.75" fill="#fff" opacity="0.55"/>
<circle cx="608.2" cy="76.4" r="2.55" fill="#b01518"/>
<circle cx="607.4" cy="75.6" r="0.75" fill="#fff" opacity="0.55"/>
<circle cx="643.4" cy="105.4" r="2.55" fill="#b01518"/>
<circle cx="642.6" cy="104.6" r="0.75" fill="#fff" opacity="0.55"/>
<circle cx="678.4" cy="110.2" r="2.55" fill="#b01518"/>
<circle cx="677.6" cy="109.4" r="0.75" fill="#fff" opacity="0.55"/>
</g>
<text x="254.6" y="190.9" font-family='"Liberation Sans", sans-serif' font-size="17.5" font-weight="bold" text-anchor="start" fill="#000" >d</text>
<line x1="285.60" y1="207.50" x2="454.40" y2="207.50" stroke="#9a9a9a" stroke-width="0.9" stroke-dasharray="0.9 1.3"/>
<text x="450.2" y="216.9" font-family='"Liberation Serif", serif' font-size="9.1" font-weight="bold" text-anchor="end" fill="#000" >Dry state</text>
<line x1="289.40" y1="331.15" x2="289.40" y2="333.95" stroke="#1a1a1a" stroke-width="1" />
<line x1="312.28" y1="331.15" x2="312.28" y2="332.75" stroke="#1a1a1a" stroke-width="1" />
<line x1="325.66" y1="331.15" x2="325.66" y2="332.75" stroke="#1a1a1a" stroke-width="1" />
<line x1="335.16" y1="331.15" x2="335.16" y2="332.75" stroke="#1a1a1a" stroke-width="1" />
<line x1="342.52" y1="331.15" x2="342.52" y2="332.75" stroke="#1a1a1a" stroke-width="1" />
<line x1="348.54" y1="331.15" x2="348.54" y2="332.75" stroke="#1a1a1a" stroke-width="1" />
<line x1="353.63" y1="331.15" x2="353.63" y2="332.75" stroke="#1a1a1a" stroke-width="1" />
<line x1="358.03" y1="331.15" x2="358.03" y2="332.75" stroke="#1a1a1a" stroke-width="1" />
<line x1="361.92" y1="331.15" x2="361.92" y2="332.75" stroke="#1a1a1a" stroke-width="1" />
<line x1="365.40" y1="331.15" x2="365.40" y2="333.95" stroke="#1a1a1a" stroke-width="1" />
<line x1="388.28" y1="331.15" x2="388.28" y2="332.75" stroke="#1a1a1a" stroke-width="1" />
<line x1="401.66" y1="331.15" x2="401.66" y2="332.75" stroke="#1a1a1a" stroke-width="1" />
<line x1="411.16" y1="331.15" x2="411.16" y2="332.75" stroke="#1a1a1a" stroke-width="1" />
<line x1="418.52" y1="331.15" x2="418.52" y2="332.75" stroke="#1a1a1a" stroke-width="1" />
<line x1="424.54" y1="331.15" x2="424.54" y2="332.75" stroke="#1a1a1a" stroke-width="1" />
<line x1="429.63" y1="331.15" x2="429.63" y2="332.75" stroke="#1a1a1a" stroke-width="1" />
<line x1="434.03" y1="331.15" x2="434.03" y2="332.75" stroke="#1a1a1a" stroke-width="1" />
<line x1="437.92" y1="331.15" x2="437.92" y2="332.75" stroke="#1a1a1a" stroke-width="1" />
<line x1="441.40" y1="331.15" x2="441.40" y2="333.95" stroke="#1a1a1a" stroke-width="1" />
<line x1="454.40" y1="331.15" x2="454.40" y2="333.95" stroke="#1a1a1a" stroke-width="1" />
<line x1="285.60" y1="195.40" x2="282.80" y2="195.40" stroke="#1a1a1a" stroke-width="1" />
<line x1="285.60" y1="211.21" x2="284.00" y2="211.21" stroke="#1a1a1a" stroke-width="1" />
<line x1="285.60" y1="207.23" x2="284.00" y2="207.23" stroke="#1a1a1a" stroke-width="1" />
<line x1="285.60" y1="204.40" x2="284.00" y2="204.40" stroke="#1a1a1a" stroke-width="1" />
<line x1="285.60" y1="202.21" x2="284.00" y2="202.21" stroke="#1a1a1a" stroke-width="1" />
<line x1="285.60" y1="200.42" x2="284.00" y2="200.42" stroke="#1a1a1a" stroke-width="1" />
<line x1="285.60" y1="198.90" x2="284.00" y2="198.90" stroke="#1a1a1a" stroke-width="1" />
<line x1="285.60" y1="197.59" x2="284.00" y2="197.59" stroke="#1a1a1a" stroke-width="1" />
<line x1="285.60" y1="196.44" x2="284.00" y2="196.44" stroke="#1a1a1a" stroke-width="1" />
<line x1="285.60" y1="218.03" x2="282.80" y2="218.03" stroke="#1a1a1a" stroke-width="1" />
<line x1="285.60" y1="233.84" x2="284.00" y2="233.84" stroke="#1a1a1a" stroke-width="1" />
<line x1="285.60" y1="229.86" x2="284.00" y2="229.86" stroke="#1a1a1a" stroke-width="1" />
<line x1="285.60" y1="227.03" x2="284.00" y2="227.03" stroke="#1a1a1a" stroke-width="1" />
<line x1="285.60" y1="224.84" x2="284.00" y2="224.84" stroke="#1a1a1a" stroke-width="1" />
<line x1="285.60" y1="223.04" x2="284.00" y2="223.04" stroke="#1a1a1a" stroke-width="1" />
<line x1="285.60" y1="221.53" x2="284.00" y2="221.53" stroke="#1a1a1a" stroke-width="1" />
<line x1="285.60" y1="220.22" x2="284.00" y2="220.22" stroke="#1a1a1a" stroke-width="1" />
<line x1="285.60" y1="219.06" x2="284.00" y2="219.06" stroke="#1a1a1a" stroke-width="1" />
<line x1="285.60" y1="240.65" x2="282.80" y2="240.65" stroke="#1a1a1a" stroke-width="1" />
<line x1="285.60" y1="256.46" x2="284.00" y2="256.46" stroke="#1a1a1a" stroke-width="1" />
<line x1="285.60" y1="252.48" x2="284.00" y2="252.48" stroke="#1a1a1a" stroke-width="1" />
<line x1="285.60" y1="249.65" x2="284.00" y2="249.65" stroke="#1a1a1a" stroke-width="1" />
<line x1="285.60" y1="247.46" x2="284.00" y2="247.46" stroke="#1a1a1a" stroke-width="1" />
<line x1="285.60" y1="245.67" x2="284.00" y2="245.67" stroke="#1a1a1a" stroke-width="1" />
<line x1="285.60" y1="244.15" x2="284.00" y2="244.15" stroke="#1a1a1a" stroke-width="1" />
<line x1="285.60" y1="242.84" x2="284.00" y2="242.84" stroke="#1a1a1a" stroke-width="1" />
<line x1="285.60" y1="241.69" x2="284.00" y2="241.69" stroke="#1a1a1a" stroke-width="1" />
<line x1="285.60" y1="263.27" x2="282.80" y2="263.27" stroke="#1a1a1a" stroke-width="1" />
<line x1="285.60" y1="285.90" x2="282.80" y2="285.90" stroke="#1a1a1a" stroke-width="1" />
<line x1="285.60" y1="308.52" x2="282.80" y2="308.52" stroke="#1a1a1a" stroke-width="1" />
<line x1="285.60" y1="315.34" x2="284.00" y2="315.34" stroke="#1a1a1a" stroke-width="1" />
<line x1="285.60" y1="319.32" x2="284.00" y2="319.32" stroke="#1a1a1a" stroke-width="1" />
<line x1="285.60" y1="322.15" x2="284.00" y2="322.15" stroke="#1a1a1a" stroke-width="1" />
<line x1="285.60" y1="324.34" x2="284.00" y2="324.34" stroke="#1a1a1a" stroke-width="1" />
<line x1="285.60" y1="326.13" x2="284.00" y2="326.13" stroke="#1a1a1a" stroke-width="1" />
<line x1="285.60" y1="327.65" x2="284.00" y2="327.65" stroke="#1a1a1a" stroke-width="1" />
<line x1="285.60" y1="328.96" x2="284.00" y2="328.96" stroke="#1a1a1a" stroke-width="1" />
<line x1="285.60" y1="330.11" x2="284.00" y2="330.11" stroke="#1a1a1a" stroke-width="1" />
<line x1="285.60" y1="331.15" x2="282.80" y2="331.15" stroke="#1a1a1a" stroke-width="1" />
<text x="280.9" y="199.4" font-family='"Liberation Serif", serif' font-size="9.5" font-weight="bold" text-anchor="end">10<tspan font-size="5.9" dy="-4.1">3</tspan></text>
<text x="280.9" y="222.0" font-family='"Liberation Serif", serif' font-size="9.5" font-weight="bold" text-anchor="end">10<tspan font-size="5.9" dy="-4.1">2</tspan></text>
<text x="280.9" y="244.7" font-family='"Liberation Serif", serif' font-size="9.5" font-weight="bold" text-anchor="end">10<tspan font-size="5.9" dy="-4.1">1</tspan></text>
<text x="280.9" y="267.3" font-family='"Liberation Serif", serif' font-size="9.5" font-weight="bold" text-anchor="end">10<tspan font-size="5.9" dy="-4.1">0</tspan></text>
<text x="280.6" y="289.59999999999997" font-family='"Liberation Serif", serif' font-size="9.0" font-weight="bold" text-anchor="end" fill="#000" >0</text>
<text x="280.9" y="312.5" font-family='"Liberation Serif", serif' font-size="9.5" font-weight="bold" text-anchor="end">-10<tspan font-size="5.9" dy="-4.1">0</tspan></text>
<text x="280.9" y="335.1" font-family='"Liberation Serif", serif' font-size="9.5" font-weight="bold" text-anchor="end">-10<tspan font-size="5.9" dy="-4.1">1</tspan></text>
<rect x="285.6" y="195.4" width="168.80" height="135.75" fill="none" stroke="#1a1a1a" stroke-width="1.25"/>
<text x="289.4" y="342.6" font-family='"Liberation Serif", serif' font-size="9.2" font-weight="bold" text-anchor="middle" fill="#000" >0.1</text>
<text x="365.4" y="342.6" font-family='"Liberation Serif", serif' font-size="9.2" font-weight="bold" text-anchor="middle" fill="#000" >1</text>
<text x="441.4" y="342.6" font-family='"Liberation Serif", serif' font-size="9.2" font-weight="bold" text-anchor="middle" fill="#000" >10</text>
<text x="454.5" y="342.6" font-family='"Liberation Serif", serif' font-size="9.2" font-weight="bold" text-anchor="middle" fill="#000" >15</text>
<text x="370.3" y="359" font-family='"Liberation Serif", serif' font-size="10.7" font-weight="bold" text-anchor="middle" fill="#000" >Concentration (mg/ml)</text>
<text transform="translate(262.2,263) rotate(-90)" font-family='"Liberation Serif", serif' font-size="10.6" font-weight="bold" text-anchor="middle">Resistance (MΩ)</text>
<rect x="287" y="197" width="21.5" height="15" fill="#fff"/>
<text x="288.6" y="209.5" font-family='"Liberation Serif", serif' font-size="14.2" font-weight="bold" text-anchor="start" fill="#000" >DI</text>
<line x1="350.10" y1="202.60" x2="370.90" y2="202.60" stroke="#f0a0a6" stroke-width="1.4" />
<circle cx="360.5" cy="202.6" r="2.5" fill="#e9787f"/>
<circle cx="359.7" cy="201.8" r="0.75" fill="#fff" opacity="0.55"/>
<text x="373.2" y="205.9" font-family='"Liberation Serif", serif' font-size="9.6" font-weight="bold">F</text>
<line x1="382.00" y1="202.60" x2="402.80" y2="202.60" stroke="#ea3434" stroke-width="1.4" />
<circle cx="392.4" cy="202.6" r="2.5" fill="#e42222"/>
<circle cx="391.6" cy="201.8" r="0.75" fill="#fff" opacity="0.55"/>
<text x="404.6" y="205.9" font-family='"Liberation Serif", serif' font-size="9.6" font-weight="bold">Cl</text>
<line x1="418.00" y1="202.60" x2="438.80" y2="202.60" stroke="#c02626" stroke-width="1.4" />
<circle cx="428.4" cy="202.6" r="2.5" fill="#b01518"/>
<circle cx="427.6" cy="201.8" r="0.75" fill="#fff" opacity="0.55"/>
<text x="440.7" y="205.9" font-family='"Liberation Serif", serif' font-size="9.6" font-weight="bold">Br</text>
<clipPath id="cpd"><rect x="286.20000000000005" y="196.0" width="167.60" height="134.55"/></clipPath><g clip-path="url(#cpd)">
<polyline points="285.6,250.0 312.6,255.2 335.3,254.2 348.4,253.3 358.2,254.6 365.5,250.0 372.8,250.0 395.8,248.6 418.3,247.2 431.4,247.2 441.1,245.5 448.8,245.1" fill="none" stroke="#f0a0a6" stroke-width="1.25" stroke-linejoin="round" />
<circle cx="285.6" cy="250.0" r="2.55" fill="#e9787f"/>
<circle cx="284.8" cy="249.2" r="0.75" fill="#fff" opacity="0.55"/>
<circle cx="312.6" cy="255.2" r="2.55" fill="#e9787f"/>
<circle cx="311.8" cy="254.4" r="0.75" fill="#fff" opacity="0.55"/>
<circle cx="335.3" cy="254.2" r="2.55" fill="#e9787f"/>
<circle cx="334.5" cy="253.4" r="0.75" fill="#fff" opacity="0.55"/>
<circle cx="348.4" cy="253.3" r="2.55" fill="#e9787f"/>
<circle cx="347.6" cy="252.5" r="0.75" fill="#fff" opacity="0.55"/>
<circle cx="358.2" cy="254.6" r="2.55" fill="#e9787f"/>
<circle cx="357.4" cy="253.8" r="0.75" fill="#fff" opacity="0.55"/>
<circle cx="365.5" cy="250.0" r="2.55" fill="#e9787f"/>
<circle cx="364.7" cy="249.2" r="0.75" fill="#fff" opacity="0.55"/>
<circle cx="372.8" cy="250.0" r="2.55" fill="#e9787f"/>
<circle cx="372.0" cy="249.2" r="0.75" fill="#fff" opacity="0.55"/>
<circle cx="395.8" cy="248.6" r="2.55" fill="#e9787f"/>
<circle cx="395.0" cy="247.8" r="0.75" fill="#fff" opacity="0.55"/>
<circle cx="418.3" cy="247.2" r="2.55" fill="#e9787f"/>
<circle cx="417.5" cy="246.4" r="0.75" fill="#fff" opacity="0.55"/>
<circle cx="431.4" cy="247.2" r="2.55" fill="#e9787f"/>
<circle cx="430.6" cy="246.4" r="0.75" fill="#fff" opacity="0.55"/>
<circle cx="441.1" cy="245.5" r="2.55" fill="#e9787f"/>
<circle cx="440.3" cy="244.7" r="0.75" fill="#fff" opacity="0.55"/>
<circle cx="448.8" cy="245.1" r="2.55" fill="#e9787f"/>
<circle cx="448.0" cy="244.3" r="0.75" fill="#fff" opacity="0.55"/>
<polyline points="285.6,250.0 344.8,250.6 367.6,251.4 380.8,247.2 390.2,253.4 397.4,239.3" fill="none" stroke="#ea3434" stroke-width="1.25" stroke-linejoin="round" />
<circle cx="344.8" cy="250.6" r="2.55" fill="#e42222"/>
<circle cx="344.0" cy="249.8" r="0.75" fill="#fff" opacity="0.55"/>
<circle cx="367.6" cy="251.4" r="2.55" fill="#e42222"/>
<circle cx="366.8" cy="250.6" r="0.75" fill="#fff" opacity="0.55"/>
<circle cx="380.8" cy="247.2" r="2.55" fill="#e42222"/>
<circle cx="380.0" cy="246.4" r="0.75" fill="#fff" opacity="0.55"/>
<circle cx="390.2" cy="253.4" r="2.55" fill="#e42222"/>
<circle cx="389.4" cy="252.6" r="0.75" fill="#fff" opacity="0.55"/>
<circle cx="397.4" cy="239.3" r="2.55" fill="#e42222"/>
<circle cx="396.6" cy="238.5" r="0.75" fill="#fff" opacity="0.55"/>
<polyline points="285.6,250.0 288.5,245.4 305.1,248.4 318.2,243.8 327.7,242.3 335.3,236.4" fill="none" stroke="#c02626" stroke-width="1.25" stroke-linejoin="round" />
<circle cx="288.5" cy="245.4" r="2.55" fill="#b01518"/>
<circle cx="287.7" cy="244.6" r="0.75" fill="#fff" opacity="0.55"/>
<circle cx="305.1" cy="248.4" r="2.55" fill="#b01518"/>
<circle cx="304.3" cy="247.6" r="0.75" fill="#fff" opacity="0.55"/>
<circle cx="318.2" cy="243.8" r="2.55" fill="#b01518"/>
<circle cx="317.4" cy="243.0" r="0.75" fill="#fff" opacity="0.55"/>
<circle cx="327.7" cy="242.3" r="2.55" fill="#b01518"/>
<circle cx="326.9" cy="241.5" r="0.75" fill="#fff" opacity="0.55"/>
<circle cx="335.3" cy="236.4" r="2.55" fill="#b01518"/>
<circle cx="334.5" cy="235.6" r="0.75" fill="#fff" opacity="0.55"/>
</g>
<text x="474.7" y="194.3" font-family='"Liberation Sans", sans-serif' font-size="17.5" font-weight="bold" text-anchor="start" fill="#000" >e</text>
<line x1="547.40" y1="206.30" x2="676.10" y2="206.30" stroke="#9a9a9a" stroke-width="0.9" stroke-dasharray="0.9 1.3"/>
<text x="671.3" y="216.3" font-family='"Liberation Serif", serif' font-size="9.1" font-weight="bold" text-anchor="end" fill="#000" >Dry state</text>
<line x1="505.35" y1="330.65" x2="505.35" y2="333.45" stroke="#1a1a1a" stroke-width="1" />
<line x1="522.43" y1="330.65" x2="522.43" y2="332.25" stroke="#1a1a1a" stroke-width="1" />
<line x1="539.50" y1="330.65" x2="539.50" y2="333.45" stroke="#1a1a1a" stroke-width="1" />
<line x1="556.58" y1="330.65" x2="556.58" y2="332.25" stroke="#1a1a1a" stroke-width="1" />
<line x1="573.65" y1="330.65" x2="573.65" y2="333.45" stroke="#1a1a1a" stroke-width="1" />
<line x1="590.73" y1="330.65" x2="590.73" y2="332.25" stroke="#1a1a1a" stroke-width="1" />
<line x1="607.80" y1="330.65" x2="607.80" y2="333.45" stroke="#1a1a1a" stroke-width="1" />
<line x1="624.88" y1="330.65" x2="624.88" y2="332.25" stroke="#1a1a1a" stroke-width="1" />
<line x1="641.95" y1="330.65" x2="641.95" y2="333.45" stroke="#1a1a1a" stroke-width="1" />
<line x1="659.03" y1="330.65" x2="659.03" y2="332.25" stroke="#1a1a1a" stroke-width="1" />
<line x1="676.10" y1="330.65" x2="676.10" y2="333.45" stroke="#1a1a1a" stroke-width="1" />
<line x1="505.35" y1="193.50" x2="502.55" y2="193.50" stroke="#1a1a1a" stroke-width="1" />
<line x1="505.35" y1="209.48" x2="503.75" y2="209.48" stroke="#1a1a1a" stroke-width="1" />
<line x1="505.35" y1="205.45" x2="503.75" y2="205.45" stroke="#1a1a1a" stroke-width="1" />
<line x1="505.35" y1="202.60" x2="503.75" y2="202.60" stroke="#1a1a1a" stroke-width="1" />
<line x1="505.35" y1="200.38" x2="503.75" y2="200.38" stroke="#1a1a1a" stroke-width="1" />
<line x1="505.35" y1="198.57" x2="503.75" y2="198.57" stroke="#1a1a1a" stroke-width="1" />
<line x1="505.35" y1="197.04" x2="503.75" y2="197.04" stroke="#1a1a1a" stroke-width="1" />
<line x1="505.35" y1="195.72" x2="503.75" y2="195.72" stroke="#1a1a1a" stroke-width="1" />
<line x1="505.35" y1="194.55" x2="503.75" y2="194.55" stroke="#1a1a1a" stroke-width="1" />
<line x1="505.35" y1="216.36" x2="502.55" y2="216.36" stroke="#1a1a1a" stroke-width="1" />
<line x1="505.35" y1="232.34" x2="503.75" y2="232.34" stroke="#1a1a1a" stroke-width="1" />
<line x1="505.35" y1="228.31" x2="503.75" y2="228.31" stroke="#1a1a1a" stroke-width="1" />
<line x1="505.35" y1="225.45" x2="503.75" y2="225.45" stroke="#1a1a1a" stroke-width="1" />
<line x1="505.35" y1="223.24" x2="503.75" y2="223.24" stroke="#1a1a1a" stroke-width="1" />
<line x1="505.35" y1="221.43" x2="503.75" y2="221.43" stroke="#1a1a1a" stroke-width="1" />
<line x1="505.35" y1="219.90" x2="503.75" y2="219.90" stroke="#1a1a1a" stroke-width="1" />
<line x1="505.35" y1="218.57" x2="503.75" y2="218.57" stroke="#1a1a1a" stroke-width="1" />
<line x1="505.35" y1="217.40" x2="503.75" y2="217.40" stroke="#1a1a1a" stroke-width="1" />
<line x1="505.35" y1="239.22" x2="502.55" y2="239.22" stroke="#1a1a1a" stroke-width="1" />
<line x1="505.35" y1="255.19" x2="503.75" y2="255.19" stroke="#1a1a1a" stroke-width="1" />
<line x1="505.35" y1="251.17" x2="503.75" y2="251.17" stroke="#1a1a1a" stroke-width="1" />
<line x1="505.35" y1="248.31" x2="503.75" y2="248.31" stroke="#1a1a1a" stroke-width="1" />
<line x1="505.35" y1="246.10" x2="503.75" y2="246.10" stroke="#1a1a1a" stroke-width="1" />
<line x1="505.35" y1="244.29" x2="503.75" y2="244.29" stroke="#1a1a1a" stroke-width="1" />
<line x1="505.35" y1="242.76" x2="503.75" y2="242.76" stroke="#1a1a1a" stroke-width="1" />
<line x1="505.35" y1="241.43" x2="503.75" y2="241.43" stroke="#1a1a1a" stroke-width="1" />
<line x1="505.35" y1="240.26" x2="503.75" y2="240.26" stroke="#1a1a1a" stroke-width="1" />
<line x1="505.35" y1="262.07" x2="502.55" y2="262.07" stroke="#1a1a1a" stroke-width="1" />
<line x1="505.35" y1="284.93" x2="502.55" y2="284.93" stroke="#1a1a1a" stroke-width="1" />
<line x1="505.35" y1="307.79" x2="502.55" y2="307.79" stroke="#1a1a1a" stroke-width="1" />
<line x1="505.35" y1="314.67" x2="503.75" y2="314.67" stroke="#1a1a1a" stroke-width="1" />
<line x1="505.35" y1="318.70" x2="503.75" y2="318.70" stroke="#1a1a1a" stroke-width="1" />
<line x1="505.35" y1="321.55" x2="503.75" y2="321.55" stroke="#1a1a1a" stroke-width="1" />
<line x1="505.35" y1="323.77" x2="503.75" y2="323.77" stroke="#1a1a1a" stroke-width="1" />
<line x1="505.35" y1="325.58" x2="503.75" y2="325.58" stroke="#1a1a1a" stroke-width="1" />
<line x1="505.35" y1="327.11" x2="503.75" y2="327.11" stroke="#1a1a1a" stroke-width="1" />
<line x1="505.35" y1="328.43" x2="503.75" y2="328.43" stroke="#1a1a1a" stroke-width="1" />
<line x1="505.35" y1="329.60" x2="503.75" y2="329.60" stroke="#1a1a1a" stroke-width="1" />
<line x1="505.35" y1="330.65" x2="502.55" y2="330.65" stroke="#1a1a1a" stroke-width="1" />
<text x="500.6" y="197.5" font-family='"Liberation Serif", serif' font-size="9.5" font-weight="bold" text-anchor="end">10<tspan font-size="5.9" dy="-4.1">3</tspan></text>
<text x="500.6" y="220.4" font-family='"Liberation Serif", serif' font-size="9.5" font-weight="bold" text-anchor="end">10<tspan font-size="5.9" dy="-4.1">2</tspan></text>
<text x="500.6" y="243.2" font-family='"Liberation Serif", serif' font-size="9.5" font-weight="bold" text-anchor="end">10<tspan font-size="5.9" dy="-4.1">1</tspan></text>
<text x="500.6" y="266.1" font-family='"Liberation Serif", serif' font-size="9.5" font-weight="bold" text-anchor="end">10<tspan font-size="5.9" dy="-4.1">0</tspan></text>
<text x="500.3" y="288.6333333333333" font-family='"Liberation Serif", serif' font-size="9.0" font-weight="bold" text-anchor="end" fill="#000" >0</text>
<text x="500.6" y="311.8" font-family='"Liberation Serif", serif' font-size="9.5" font-weight="bold" text-anchor="end">-10<tspan font-size="5.9" dy="-4.1">0</tspan></text>
<text x="500.6" y="334.6" font-family='"Liberation Serif", serif' font-size="9.5" font-weight="bold" text-anchor="end">-10<tspan font-size="5.9" dy="-4.1">1</tspan></text>
<rect x="505.35" y="193.5" width="170.75" height="137.15" fill="none" stroke="#1a1a1a" stroke-width="1.25"/>
<text x="505.35" y="342.4" font-family='"Liberation Serif", serif' font-size="9.2" font-weight="bold" text-anchor="middle" fill="#000" >0.0</text>
<text x="539.5" y="342.4" font-family='"Liberation Serif", serif' font-size="9.2" font-weight="bold" text-anchor="middle" fill="#000" >0.2</text>
<text x="573.65" y="342.4" font-family='"Liberation Serif", serif' font-size="9.2" font-weight="bold" text-anchor="middle" fill="#000" >0.4</text>
<text x="607.8000000000001" y="342.4" font-family='"Liberation Serif", serif' font-size="9.2" font-weight="bold" text-anchor="middle" fill="#000" >0.6</text>
<text x="641.95" y="342.4" font-family='"Liberation Serif", serif' font-size="9.2" font-weight="bold" text-anchor="middle" fill="#000" >0.8</text>
<text x="676.1" y="342.4" font-family='"Liberation Serif", serif' font-size="9.2" font-weight="bold" text-anchor="middle" fill="#000" >1.0</text>
<text x="591" y="358.9" font-family='"Liberation Serif", serif' font-size="10.7" font-weight="bold" text-anchor="middle" fill="#000" >Concentration (mg/ml)</text>
<text transform="translate(482.4,261.6) rotate(-90)" font-family='"Liberation Serif", serif' font-size="10.65" font-weight="bold" text-anchor="middle">Resistance (MΩ)</text>
<text x="509" y="208" font-family='"Liberation Serif", serif' font-size="14.2" font-weight="bold" text-anchor="start" fill="#000" >EtOH</text>
<line x1="570.70" y1="200.80" x2="591.50" y2="200.80" stroke="#f0a0a6" stroke-width="1.4" />
<circle cx="581.1" cy="200.8" r="2.5" fill="#e9787f"/>
<circle cx="580.3" cy="200.0" r="0.75" fill="#fff" opacity="0.55"/>
<text x="594.1" y="204.1" font-family='"Liberation Serif", serif' font-size="9.6" font-weight="bold">F</text>
<line x1="603.10" y1="200.80" x2="623.90" y2="200.80" stroke="#ea3434" stroke-width="1.4" />
<circle cx="613.5" cy="200.8" r="2.5" fill="#e42222"/>
<circle cx="612.7" cy="200.0" r="0.75" fill="#fff" opacity="0.55"/>
<text x="626.3" y="204.1" font-family='"Liberation Serif", serif' font-size="9.6" font-weight="bold">Cl</text>
<line x1="639.60" y1="200.80" x2="660.40" y2="200.80" stroke="#c02626" stroke-width="1.4" />
<circle cx="650.0" cy="200.8" r="2.5" fill="#b01518"/>
<circle cx="649.2" cy="200.0" r="0.75" fill="#fff" opacity="0.55"/>
<text x="662.5" y="204.1" font-family='"Liberation Serif", serif' font-size="9.6" font-weight="bold">Br</text>
<clipPath id="cpe"><rect x="505.95000000000005" y="194.1" width="169.55" height="135.95"/></clipPath><g clip-path="url(#cpe)">
<polyline points="506.6,250.1 522.6,253.6 539.7,255.6 556.9,255.0 573.7,257.5 590.8,257.6 607.6,256.8 641.9,252.2 674.8,251.0" fill="none" stroke="#c02626" stroke-width="1.25" stroke-linejoin="round" />
<circle cx="506.6" cy="250.1" r="2.3" fill="#b01518"/>
<circle cx="505.8" cy="249.3" r="0.75" fill="#fff" opacity="0.55"/>
<circle cx="522.6" cy="253.6" r="2.3" fill="#b01518"/>
<circle cx="521.8" cy="252.8" r="0.75" fill="#fff" opacity="0.55"/>
<circle cx="539.7" cy="255.6" r="2.3" fill="#b01518"/>
<circle cx="538.9" cy="254.8" r="0.75" fill="#fff" opacity="0.55"/>
<circle cx="556.9" cy="255.0" r="2.3" fill="#b01518"/>
<circle cx="556.1" cy="254.2" r="0.75" fill="#fff" opacity="0.55"/>
<circle cx="573.7" cy="257.5" r="2.3" fill="#b01518"/>
<circle cx="572.9" cy="256.7" r="0.75" fill="#fff" opacity="0.55"/>
<circle cx="590.8" cy="257.6" r="2.3" fill="#b01518"/>
<circle cx="590.0" cy="256.8" r="0.75" fill="#fff" opacity="0.55"/>
<circle cx="607.6" cy="256.8" r="2.3" fill="#b01518"/>
<circle cx="606.8" cy="256.0" r="0.75" fill="#fff" opacity="0.55"/>
<circle cx="641.9" cy="252.2" r="2.3" fill="#b01518"/>
<circle cx="641.1" cy="251.4" r="0.75" fill="#fff" opacity="0.55"/>
<circle cx="674.8" cy="251.0" r="2.3" fill="#b01518"/>
<circle cx="674.0" cy="250.2" r="0.75" fill="#fff" opacity="0.55"/>
<polyline points="506.6,250.1 539.7,256.2 573.7,258.3 607.6,257.3 641.9,252.2 674.8,251.3" fill="none" stroke="#ee3c3c" stroke-width="1.25" stroke-linejoin="round" />
<circle cx="506.6" cy="250.1" r="2.3" fill="#e42222"/>
<circle cx="505.8" cy="249.3" r="0.75" fill="#fff" opacity="0.55"/>
<circle cx="539.7" cy="256.2" r="2.3" fill="#e42222"/>
<circle cx="538.9" cy="255.4" r="0.75" fill="#fff" opacity="0.55"/>
<circle cx="573.7" cy="258.3" r="2.3" fill="#e42222"/>
<circle cx="572.9" cy="257.5" r="0.75" fill="#fff" opacity="0.55"/>
<circle cx="607.6" cy="257.3" r="2.3" fill="#e42222"/>
<circle cx="606.8" cy="256.5" r="0.75" fill="#fff" opacity="0.55"/>
<circle cx="641.9" cy="252.2" r="2.3" fill="#e42222"/>
<circle cx="641.1" cy="251.4" r="0.75" fill="#fff" opacity="0.55"/>
<circle cx="674.8" cy="251.3" r="2.3" fill="#e42222"/>
<circle cx="674.0" cy="250.5" r="0.75" fill="#fff" opacity="0.55"/>
<polyline points="506.6,249.6 539.7,258.9 573.7,256.8 607.6,256.6 641.9,256.4 674.8,249.1" fill="none" stroke="#f0a0a6" stroke-width="1.15" stroke-linejoin="round" />
<circle cx="506.6" cy="249.6" r="2.3" fill="#f7c4c8" stroke="#e8808a" stroke-width="0.9"/>
<circle cx="539.7" cy="258.9" r="2.3" fill="#f7c4c8" stroke="#e8808a" stroke-width="0.9"/>
<circle cx="573.7" cy="256.8" r="2.3" fill="#f7c4c8" stroke="#e8808a" stroke-width="0.9"/>
<circle cx="607.6" cy="256.6" r="2.3" fill="#f7c4c8" stroke="#e8808a" stroke-width="0.9"/>
<circle cx="641.9" cy="256.4" r="2.3" fill="#f7c4c8" stroke="#e8808a" stroke-width="0.9"/>
<circle cx="674.8" cy="249.1" r="2.3" fill="#f7c4c8" stroke="#e8808a" stroke-width="0.9"/>
</g>
<line x1="286.50" y1="285.60" x2="338.00" y2="285.60" stroke="#d4d4d4" stroke-width="0.8" stroke-dasharray="1.6 1.6"/>
<polyline points="348.4,280.1 348.4,264.3 445.7,264.3 445.7,290.8" fill="none" stroke="#111" stroke-width="1.1" stroke-linejoin="round" />
<polyline points="415.1,316.5 415.1,318.8 445.7,318.8 445.7,296.6" fill="none" stroke="#111" stroke-width="1.1" stroke-linejoin="round" />
<line x1="436.00" y1="290.80" x2="453.80" y2="290.80" stroke="#111" stroke-width="1.8" />
<line x1="439.90" y1="296.60" x2="450.00" y2="296.60" stroke="#111" stroke-width="1.8" />
<rect x="341" y="279.9" width="17" height="7.3" fill="#0d0d0d"/>
<text x="349.3" y="285.6" font-family='"Liberation Sans", sans-serif' font-size="6.6" font-weight="bold" text-anchor="middle" fill="#fff" >Ag</text>
<rect x="340.4" y="287.9" width="59.6" height="8" fill="#5568a0"/>
<text x="372.9" y="294.2" font-family='"Liberation Sans", sans-serif' font-size="6.3" font-weight="bold" text-anchor="middle" fill="#fff" >n-GaN</text>
<rect x="373.2" y="296.6" width="26.8" height="4.6" fill="#bdbdbd"/>
<line x1="375.00" y1="299.60" x2="399.00" y2="299.60" stroke="#efefef" stroke-width="1.2" stroke-dasharray="3 2"/>
<rect x="358.2" y="301.3" width="64.3" height="7.5" fill="#8f5c44"/>
<text x="387.8" y="307.3" font-family='"Liberation Sans", sans-serif' font-size="6.3" font-weight="bold" text-anchor="middle" fill="#fff" >p-GaN</text>
<rect x="408.3" y="309.5" width="14.2" height="7" fill="#0d0d0d"/>
<text x="415.4" y="315.2" font-family='"Liberation Sans", sans-serif' font-size="6.6" font-weight="bold" text-anchor="middle" fill="#fff" >In</text>
<defs><linearGradient id="ag" x1="0" y1="0" x2="0" y2="1"><stop offset="0" stop-color="#f4f4f4"/><stop offset="0.55" stop-color="#8a8a8a"/><stop offset="1" stop-color="#3c3c3c"/></linearGradient></defs>
<polygon points="379.2,271.4 384.2,271.4 384.2,281.5 387.3,281.5 381.7,287.9 376.0,281.5 379.2,281.5" fill="url(#ag)" />
<text x="388" y="280.5" font-family='"Liberation Sans", sans-serif' font-size="9.5" font-weight="bold" font-style="italic">F</text>
<text x="416.3" y="292.2" font-family='"Liberation Sans", sans-serif' font-size="6.5" font-weight="bold" text-anchor="middle" fill="#e52222" >DI-MXene</text>
<text x="418.6" y="298.9" font-family='"Liberation Sans", sans-serif' font-size="6.5" font-weight="bold" text-anchor="middle" fill="#e52222" >solution</text>
<line x1="506.50" y1="285.30" x2="555.40" y2="285.30" stroke="#d4d4d4" stroke-width="0.8" stroke-dasharray="1.6 1.6"/>
<polyline points="567.6,279.8 567.6,264.7 668.0,264.7 668.0,292.3" fill="none" stroke="#111" stroke-width="1.1" stroke-linejoin="round" />
<polyline points="636.5,318.1 636.5,321.3 667.7,321.3 667.7,298.5" fill="none" stroke="#111" stroke-width="1.1" stroke-linejoin="round" />
<line x1="657.70" y1="292.30" x2="676.10" y2="292.30" stroke="#111" stroke-width="1.8" />
<line x1="661.80" y1="298.50" x2="672.60" y2="298.50" stroke="#111" stroke-width="1.8" />
<rect x="559.3" y="279.8" width="18.2" height="7.9" fill="#0d0d0d"/>
<text x="568.4" y="285.9" font-family='"Liberation Sans", sans-serif' font-size="6.6" font-weight="bold" text-anchor="middle" fill="#fff" >Ag</text>
<rect x="559.3" y="288.5" width="59.7" height="7.9" fill="#5568a0"/>
<text x="591.5" y="294.8" font-family='"Liberation Sans", sans-serif' font-size="6.3" font-weight="bold" text-anchor="middle" fill="#fff" >n-GaN</text>
<rect x="590.4" y="296.4" width="27.9" height="5.8" fill="#bdbdbd"/>
<line x1="592.00" y1="299.90" x2="618.00" y2="299.90" stroke="#efefef" stroke-width="1.2" stroke-dasharray="3 2"/>
<rect x="576.9" y="302.6" width="67.3" height="7.3" fill="#8f5c44"/>
<text x="608" y="308.6" font-family='"Liberation Sans", sans-serif' font-size="6.3" font-weight="bold" text-anchor="middle" fill="#fff" >p-GaN</text>
<rect x="629.3" y="310.9" width="14.9" height="7.2" fill="#0d0d0d"/>
<text x="636.8" y="316.7" font-family='"Liberation Sans", sans-serif' font-size="6.6" font-weight="bold" text-anchor="middle" fill="#fff" >In</text>
<polygon points="598.7,272.6 603.8,272.6 603.8,282.6 606.9,282.6 601.3,288.5 595.7,282.6 598.7,282.6" fill="url(#ag)" />
<text x="608.3" y="280.9" font-family='"Liberation Sans", sans-serif' font-size="9.5" font-weight="bold" font-style="italic">F</text>
<text x="638.7" y="292.8" font-family='"Liberation Sans", sans-serif' font-size="6.5" font-weight="bold" text-anchor="middle" fill="#e52222" >EtOH-MXene</text>
<text x="646" y="299.6" font-family='"Liberation Sans", sans-serif' font-size="6.5" font-weight="bold" text-anchor="middle" fill="#e52222" >solution</text>
</svg>
</body></html>
